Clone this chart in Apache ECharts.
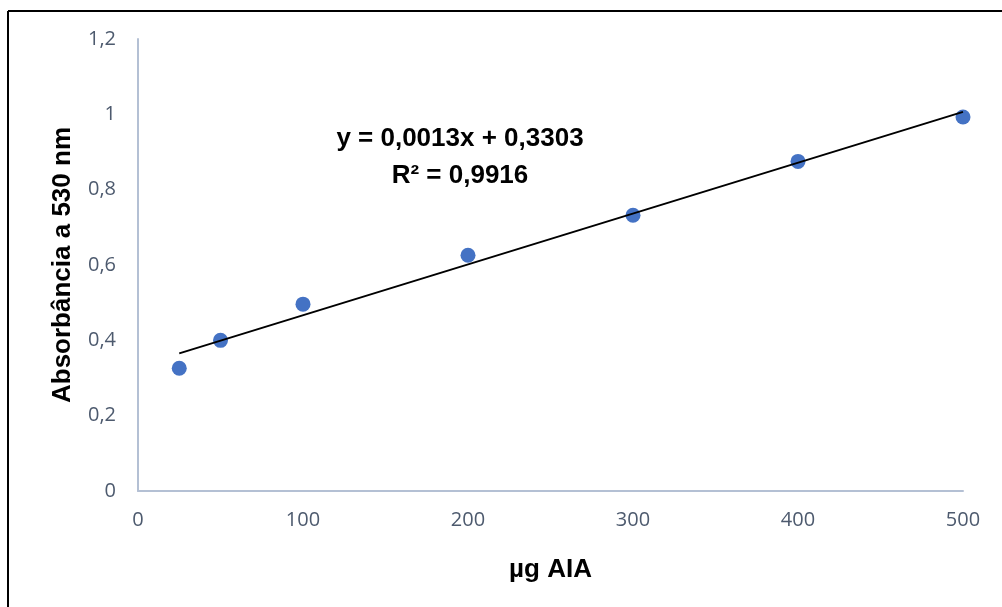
<!DOCTYPE html>
<html>
<head>
<meta charset="utf-8">
<script src="https://cdn.jsdelivr.net/npm/echarts@6/dist/echarts.min.js"></script>
<style>
  html, body { margin: 0; padding: 0; background: #fff; }
  #chart { width: 1002px; height: 607px; }
</style>
</head>
<body>
<div id="chart"></div>
<script>
// data
var concentracao = [25, 50, 100, 200, 300, 400, 500];
var absorbancia = [0.326, 0.400, 0.496, 0.626, 0.732, 0.875, 0.993];
var equacaoTexto = ['y = 0,0013x + 0,3303', 'R² = 0,9916'];

// least squares fit for the trend line
function ajuste(xs, ys) {
  var n = xs.length, mx = 0, my = 0, sxy = 0, sxx = 0;
  for (var i = 0; i < n; i++) { mx += xs[i]; my += ys[i]; }
  mx /= n; my /= n;
  for (var j = 0; j < n; j++) {
    sxy += (xs[j] - mx) * (ys[j] - my);
    sxx += (xs[j] - mx) * (xs[j] - mx);
  }
  var a = sxy / sxx;
  return { a: a, b: my - a * mx };
}
var fit = ajuste(concentracao, absorbancia);
var xMin = Math.min.apply(null, concentracao);
var xMax = Math.max.apply(null, concentracao);
var linha = [[xMin, fit.a * xMin + fit.b], [xMax, fit.a * xMax + fit.b]];

var pontos = concentracao.map(function (x, i) { return [x, absorbancia[i]]; });

var chart = echarts.init(document.getElementById('chart'));
var titleFont = 'Liberation Sans, Arial';

chart.setOption({
  animation: false,
  grid: { left: 138, right: 39, top: 39, bottom: 116 },
  xAxis: {
    type: 'value',
    min: 0, max: 500, interval: 100,
    name: 'µg AIA',
    nameLocation: 'middle',
    nameGap: 66,
    nameTextStyle: { fontFamily: titleFont, fontWeight: 'bold', fontSize: 26, color: '#000' },
    axisLine: { show: true, lineStyle: { color: '#b4c0d4', width: 2 } },
    axisTick: { show: false },
    splitLine: { show: false },
    axisLabel: { margin: 19, color: '#4d5a6e', fontSize: 20, fontFamily: 'Open Sans' }
  },
  yAxis: {
    type: 'value',
    min: 0, max: 1.2, interval: 0.2,
    name: 'Absorbância a 530 nm',
    nameLocation: 'middle',
    nameGap: 62,
    nameTextStyle: { fontFamily: titleFont, fontWeight: 'bold', fontSize: 26, color: '#000' },
    axisLine: { show: true, lineStyle: { color: '#b4c0d4', width: 2 } },
    axisTick: { show: false },
    splitLine: { show: false },
    axisLabel: {
      margin: 22, color: '#4d5a6e', fontSize: 20, fontFamily: 'Open Sans',
      formatter: function (v) { return String(Math.round(v * 10) / 10).replace('.', ','); }
    }
  },
  series: [
    {
      type: 'line',
      data: linha,
      symbol: 'none',
      lineStyle: { color: '#000', width: 2 },
      z: 3
    },
    {
      type: 'scatter',
      data: pontos,
      symbolSize: 15,
      itemStyle: { color: '#4472c4', opacity: 1 },
      z: 2
    }
  ],
  graphic: [
    { type: 'line', shape: { x1: 8, y1: 11, x2: 1002, y2: 11 }, style: { stroke: '#000', lineWidth: 2 } },
    { type: 'line', shape: { x1: 8, y1: 11, x2: 8, y2: 607 }, style: { stroke: '#000', lineWidth: 2 } },
    {
      type: 'text',
      style: {
        text: equacaoTexto[0], x: 460, y: 139,
        align: 'center', verticalAlign: 'middle',
        font: 'bold 26px ' + titleFont, fill: '#000'
      }
    },
    {
      type: 'text',
      style: {
        text: equacaoTexto[1], x: 460, y: 176,
        align: 'center', verticalAlign: 'middle',
        font: 'bold 26px ' + titleFont, fill: '#000'
      }
    }
  ]
});
</script>
</body>
</html>
